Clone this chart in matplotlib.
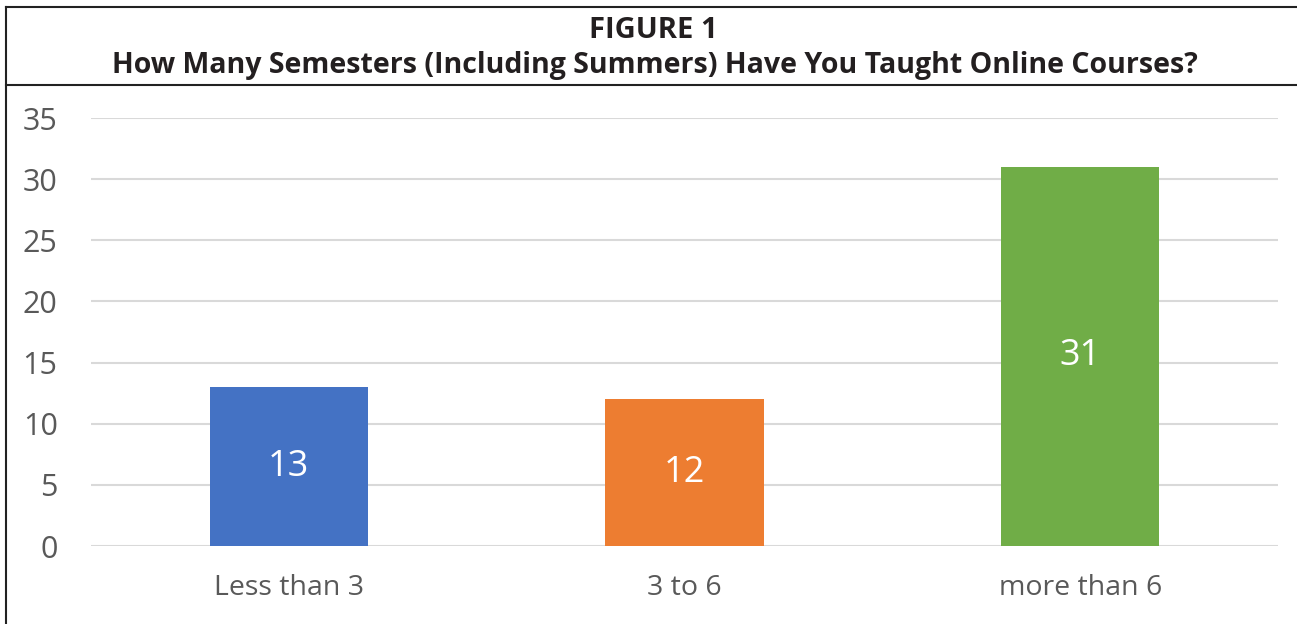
import matplotlib
matplotlib.use('Agg')
from matplotlib import pyplot as plt
from matplotlib.lines import Line2D

# Daten
categories = ['Less than 3', '3 to 6', 'more than 6']
counts = [13, 12, 31]
bar_colors = ['#4472C4', '#ED7D31', '#70AD47']
yticks = [0, 5, 10, 15, 20, 25, 30, 35]

plt.rcParams['font.family'] = ['Open Sans', 'DejaVu Sans']

W, H = 1297, 624
fig = plt.figure(figsize=(W / 100, H / 100), dpi=100)
ax = fig.add_axes([91 / W, (H - 546) / H, (1278 - 91) / W, (546 - 118) / H])

x = range(len(categories))
bars = ax.bar(x, counts, width=0.4, color=bar_colors, zorder=2)

for b, v in zip(bars, counts):
    ax.text(b.get_x() + b.get_width() / 2, v / 2, str(v), ha='center', va='center',
            color='white', fontsize=26, zorder=3)

ax.set_xlim(-0.5, 2.5)
ax.set_ylim(0, 35)
ax.set_yticks(yticks)
ax.set_xticks(list(x))
ax.set_xticklabels(categories)
ax.yaxis.grid(True, color='#D9D9D9', linewidth=1.5, zorder=0)
ax.tick_params(axis='both', length=0, colors='#595959')
ax.tick_params(axis='y', pad=24, labelsize=22)
ax.tick_params(axis='x', pad=20, labelsize=20.5)
for s in ax.spines.values():
    s.set_visible(False)

# Rahmen und Kopfzeile
fig.add_artist(Line2D([6 / W, 1], [1 - 7 / H, 1 - 7 / H], color='#222222', lw=1.5))
fig.add_artist(Line2D([6 / W, 6 / W], [0, 1 - 7 / H], color='#222222', lw=1.5))
fig.add_artist(Line2D([6 / W, 1], [1 - 85 / H, 1 - 85 / H], color='#222222', lw=1.5))

fig.text(653 / W, 1 - 31 / H, 'FIGURE 1', ha='center', va='center',
         fontsize=21, fontweight='bold', color='#231F20')
fig.text(655 / W, 1 - 65 / H, 'How Many Semesters (Including Summers) Have You Taught Online Courses?',
         ha='center', va='center', fontsize=20.5, fontweight='bold', color='#231F20')

plt.savefig('out.png', dpi=100)
plt.close()
